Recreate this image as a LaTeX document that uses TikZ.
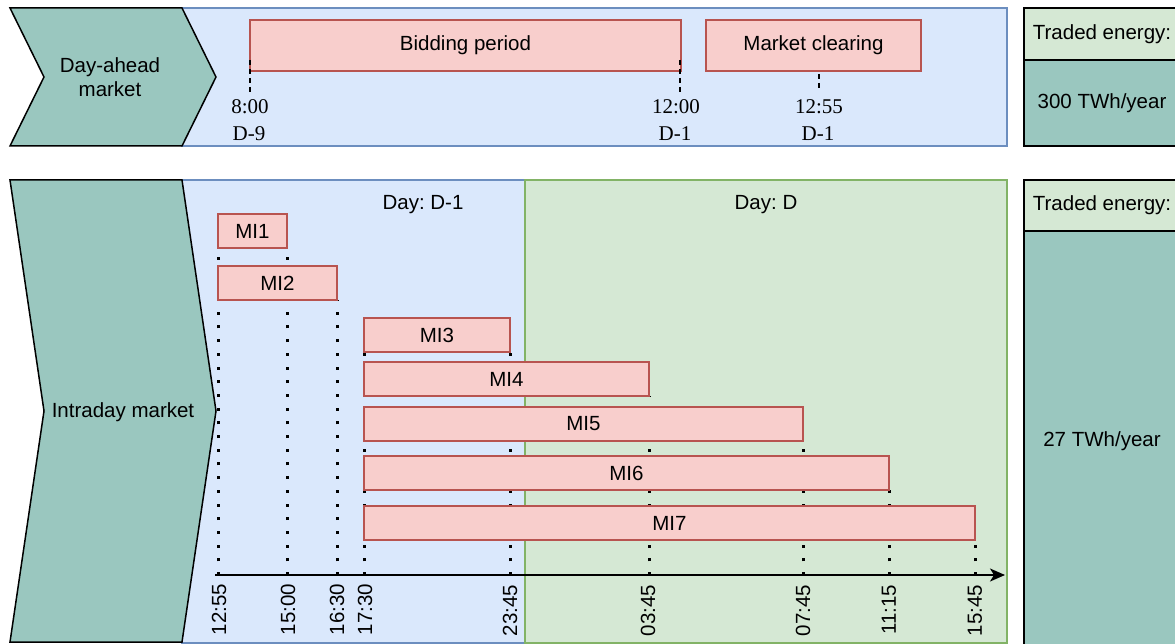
\documentclass[tikz,border=0pt]{standalone}
\usepackage{fontspec}
\setmainfont{Liberation Sans}
\newfontfamily\timesfont{Liberation Serif}
\usetikzlibrary{arrows.meta,calc}
\frenchspacing

\pgfdeclarelayer{backdrop}
\pgfdeclarelayer{guides}
\pgfsetlayers{backdrop,guides,main}

\definecolor{tealfill}{HTML}{9AC7BF}
\definecolor{bluefill}{HTML}{DAE8FC}
\definecolor{bluestroke}{HTML}{6C8EBF}
\definecolor{greenfill}{HTML}{D5E8D4}
\definecolor{greenstroke}{HTML}{82B366}
\definecolor{pinkfill}{HTML}{F8CECC}
\definecolor{pinkstroke}{HTML}{B85450}

\begin{document}
\begin{tikzpicture}[x=1pt,y=-1pt,
  font=\fontsize{20.5}{23.5}\selectfont,
  every node/.style={inner sep=0pt, outer sep=0pt},
  chevron/.style={draw=black, fill=tealfill, line width=1.5pt, line join=miter},
  dayblue/.style={draw=bluestroke, fill=bluefill, line width=1.5pt},
  daygreen/.style={draw=greenstroke, fill=greenfill, line width=1.5pt},
  phase/.style={draw=pinkstroke, fill=pinkfill, line width=1.5pt,
    minimum height=34pt, anchor=north west},
  bigphase/.style={phase, minimum height=51pt},
  energyhead/.style={draw=black, fill=greenfill, line width=1.5pt,
    anchor=north west, minimum width=156pt},
  energybody/.style={draw=black, fill=tealfill, line width=1.5pt,
    anchor=north west, minimum width=156pt},
  timelbl/.style={font=\timesfont\fontsize{21}{25}\selectfont},
  ticklbl/.style={rotate=90, anchor=east},
  guide/.style={line width=1.2pt, dash pattern=on 5pt off 4pt},
  dotguide/.style={line width=3pt, dash pattern=on 3pt off 10.7pt},
  axisline/.style={line width=1.8pt, -{Stealth[length=15pt,width=13pt,inset=4pt]}},
]
\useasboundingbox (0,0) rectangle (1175,644);
\clip (0,0) rectangle (1175,644);

% ---------- day-ahead market band ----------
\begin{pgfonlayer}{backdrop}
  \draw[dayblue] (182,8) rectangle (1007,146);
\end{pgfonlayer}
\draw[chevron] (10,8) -- (182,8) -- (216,77) -- (182,146) -- (10,146) -- (44,77) -- cycle;
\node[align=center] (dalbl) at (110,77) {Day-ahead\\market};

\node[bigphase, minimum width=431pt] (bid) at (250,20) {Bidding period};
\node[bigphase, minimum width=215pt] (mc) at (706,20) {Market clearing};

\coordinate (g800) at (250,93);
\coordinate (g1200) at (680,92);
\coordinate (g1255) at (819,91);
\draw[guide] ($(bid.south west)+(0,-11)$) -- (g800);
\draw[guide] ($(bid.south east)+(-1,-11)$) -- (g1200);
\draw[guide] ($(mc.south)+(5.5,3)$) -- (g1255);

\node[timelbl] (l800) at (250,107) {8:00};
\node[timelbl] (d800) at (249,134) {D-9};
\node[timelbl] (l1200) at (676,107) {12:00};
\node[timelbl] (d1200) at (675,134) {D-1};
\node[timelbl] (l1255) at (819,107) {12:55};
\node[timelbl] (d1255) at (818,134) {D-1};

\node[energyhead, minimum height=52pt] (teda) at (1024,8) {Traded energy:};
\node[energybody, minimum height=86pt] (vda) at (1024,60) {300 TWh/year};

% ---------- intraday market band ----------
\begin{pgfonlayer}{backdrop}
  \draw[dayblue] (182,180) rectangle (525,643);
  \draw[daygreen] (525,180) rectangle (1007,643);
\end{pgfonlayer}
\draw[chevron] (10,180) -- (182,180) -- (216,411) -- (182,642) -- (10,642) -- (44,411) -- cycle;
\node (idlbl) at (123,412) {Intraday market};

\node (dm1) at (423,205) {Day: D-1};
\node (dd) at (766,205) {Day: D};

\node[phase, minimum width=69pt]  (mi1) at (218,214) {MI1};
\node[phase, minimum width=119pt] (mi2) at (218,266) {MI2};
\node[phase, minimum width=146pt] (mi3) at (364,318) {MI3};
\node[phase, minimum width=285pt] (mi4) at (364,362) {MI4};
\node[phase, minimum width=439pt] (mi5) at (364,407) {MI5};
\node[phase, minimum width=525pt] (mi6) at (364,456) {MI6};
\node[phase, minimum width=611pt] (mi7) at (364,506) {MI7};

% time axis and its ticks
\coordinate (axs) at (215,575);
\coordinate (axe) at (1005,575);
\draw[axisline] (axs) -- (axe);

\coordinate (t1255) at (218,575);
\coordinate (t1500) at (287,575);
\coordinate (t1630) at (337,575);
\coordinate (t1730) at (364,575);
\coordinate (t2345) at (510,575);
\coordinate (t0345) at (649,575);
\coordinate (t0745) at (803,575);
\coordinate (t1115) at (889,575);
\coordinate (t1545) at (975,575);

\begin{pgfonlayer}{guides}
  \draw[dotguide] (t1255) -- (mi1.south west);
  \draw[dotguide] (t1500) -- (mi1.south east);
  \draw[dotguide] (t1630) -- (mi2.south east);
  \draw[dotguide] (t1730) -- (mi3.south west);
  \draw[dotguide] (t2345) -- (mi3.south east);
  \draw[dotguide] (t0345) -- (mi4.south east);
  \draw[dotguide] (t0745) -- (mi5.south east);
  \draw[dotguide] (t1115) -- (mi6.south east);
  \draw[dotguide] (t1545) -- (mi7.south east);
\end{pgfonlayer}

\node[ticklbl] (k1255) at (219,584) {12:55};
\node[ticklbl] (k1500) at (288,584) {15:00};
\node[ticklbl] (k1630) at (337,584) {16:30};
\node[ticklbl] (k1730) at (365,584) {17:30};
\node[ticklbl] (k2345) at (510,585) {23:45};
\node[ticklbl] (k0345) at (648,585) {03:45};
\node[ticklbl] (k0745) at (803,585) {07:45};
\node[ticklbl] (k1115) at (889,585) {11:15};
\node[ticklbl] (k1545) at (975,585) {15:45};

\node[energyhead, minimum height=51pt] (teid) at (1024,180) {Traded energy:};
\node[energybody, minimum height=420pt] (vid) at (1024,231) {27 TWh/year};
\end{tikzpicture}
\end{document}
